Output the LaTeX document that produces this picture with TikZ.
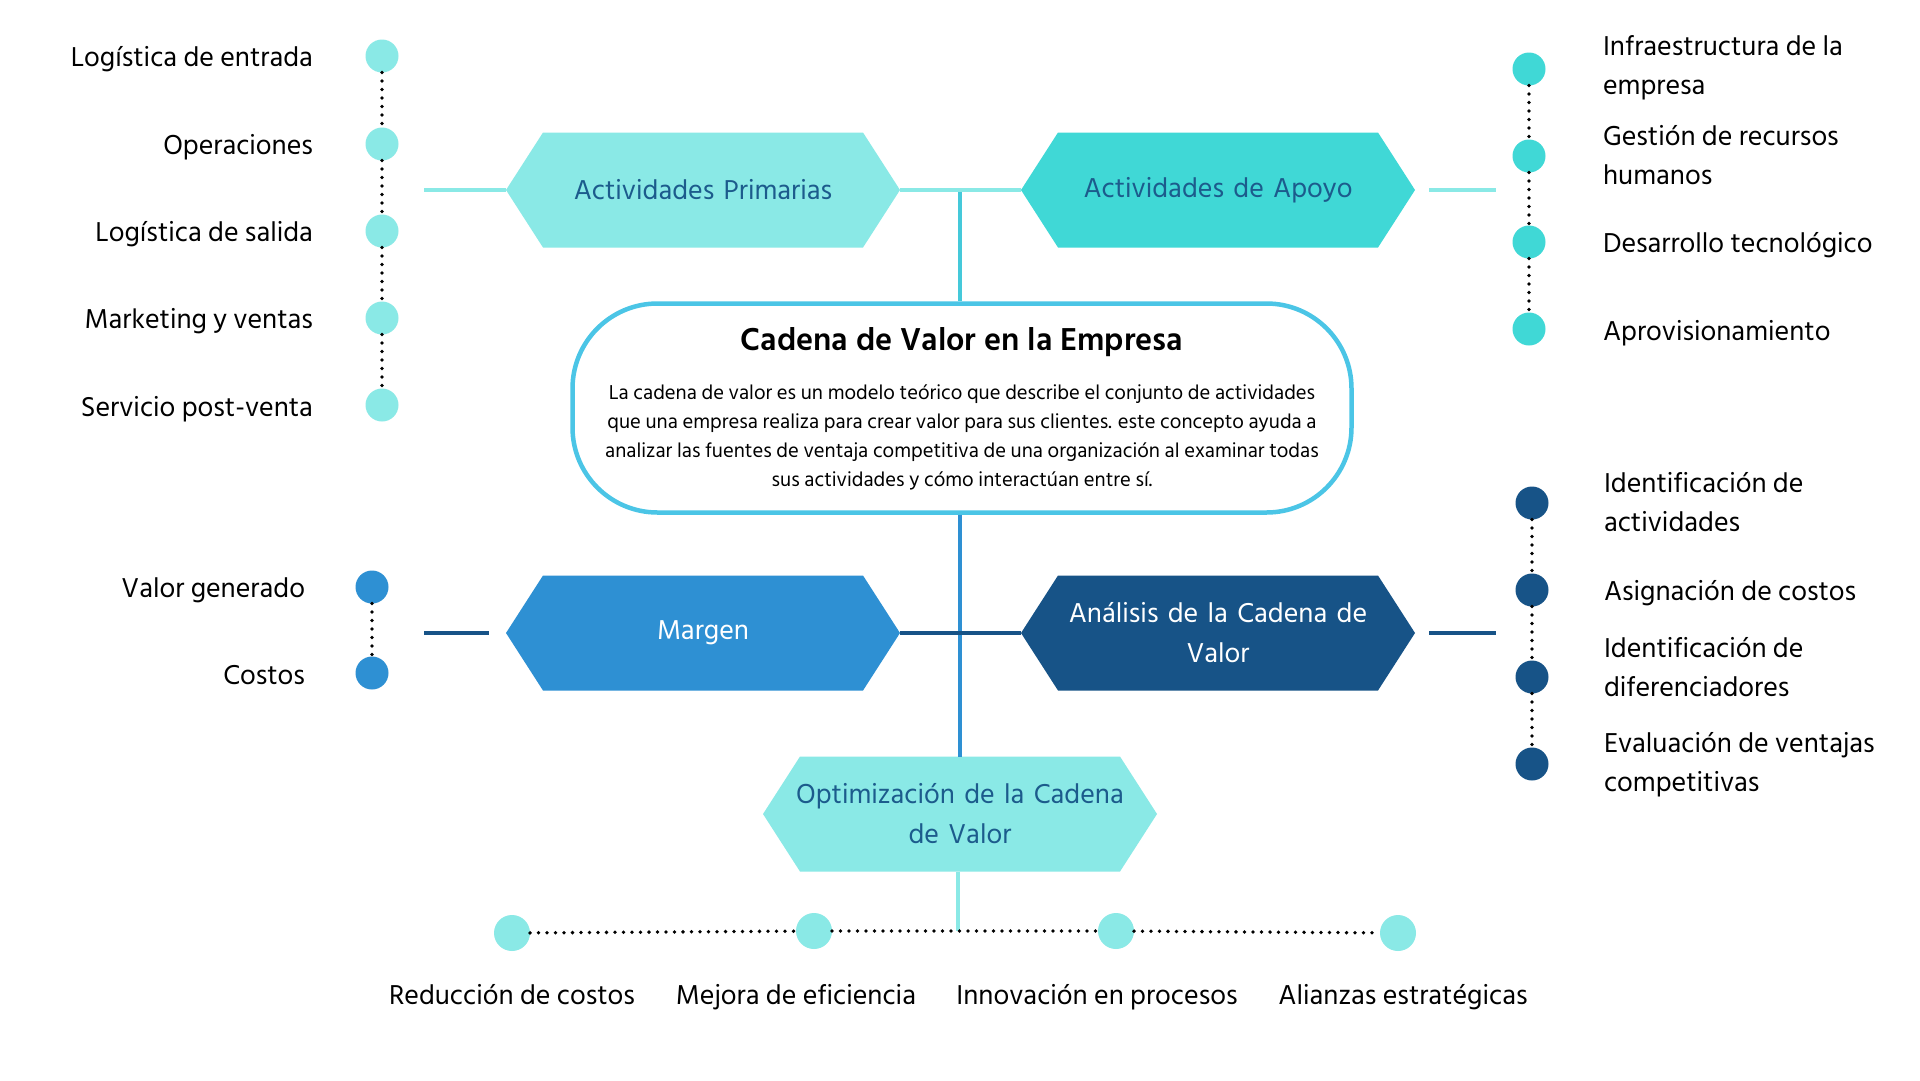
\documentclass[tikz,border=0pt]{standalone}
\usepackage{fontspec}
\setmainfont{Hind Siliguri}
\usetikzlibrary{calc}
\definecolor{lightc}{HTML}{8AE9E6}
\definecolor{turq}{HTML}{40D8D6}
\definecolor{medblue}{HTML}{2E90D3}
\definecolor{darkblue}{HTML}{175387}
\definecolor{boxcol}{HTML}{4BC5E6}
\definecolor{topline}{HTML}{45C9DA}
\definecolor{hextext}{HTML}{1C5B8C}
\begin{document}
\begin{tikzpicture}[x=1pt,y=-1pt,
  pdot/.style={circle, inner sep=0, outer sep=0, minimum size=33, fill=#1},
  bdot/.style={circle, inner sep=0, outer sep=0, minimum size=36, fill=#1},
  dotline/.style={line width=3.8, dash pattern=on 0pt off 8.5pt, line cap=round, black},
  conn/.style={line width=4, #1},
  lbl/.style={font=\fontsize{28}{39}\selectfont, inner sep=0, outer sep=0},
  hexnode/.style n args={2}{minimum width=394, minimum height=115, inner sep=0, outer sep=0,
    text width=340, align=center, font=\fontsize{28}{40}\selectfont, text=#2,
    path picture={\fill[#1] (path picture bounding box.west)
      -- ([xshift=37pt]path picture bounding box.north west)
      -- ([xshift=-37pt]path picture bounding box.north east)
      -- (path picture bounding box.east)
      -- ([xshift=-37pt]path picture bounding box.south east)
      -- ([xshift=37pt]path picture bounding box.south west) -- cycle;}},
]
\useasboundingbox[fill=white] (0,0) rectangle (1920,1080);

% ---------- top hexagons ----------
\node[hexnode={lightc}{hextext}] (prim) at (703,190) {Actividades Primarias};
\node[hexnode={turq}{hextext}] (apoyo) at (1218,190) {Actividades de Apoyo};
\coordinate (ps) at (424,190);
\coordinate (as) at (1496,190);
\coordinate (tj) at (960,190);

% ---------- central box ----------
\node[draw=boxcol, line width=4.5, rounded corners=85, minimum width=779, minimum height=209, inner sep=0, fill=white] (box) at (962,408) {};
\node[font=\fontsize{32.5}{38}\selectfont\bfseries] (title) at (962,342) {Cadena de Valor en la Empresa};
\node[font=\fontsize{20.6}{29}\selectfont, align=center] (body) at (962,437)
  {La cadena de valor es un modelo teórico que describe el conjunto de actividades\\
   que una empresa realiza para crear valor para sus clientes. este concepto ayuda a\\
   analizar las fuentes de ventaja competitiva de una organización al examinar todas\\
   sus actividades y cómo interactúan entre sí.};

\draw[conn=lightc] (ps) -- (prim.west);
\draw[conn=lightc] ([xshift=14pt]apoyo.east) -- (as);
\draw[conn=topline] (tj) -- (tj |- box.north);
\draw[conn=lightc] (prim.east) -- (apoyo.west);

% ---------- lower hexagons ----------
\node[hexnode={medblue}{white}] (marg) at (703,633) {Margen};
\node[hexnode={darkblue}{white}] (anal) at (1218,633) {Análisis de la Cadena de\\Valor};
\node[hexnode={lightc}{hextext}] (opt) at (960,814) {Optimización de la Cadena\\de Valor};
\coordinate (ms) at (424,633);
\coordinate (as2) at (1496,633);
\coordinate (bj) at (958,931);

\draw[conn=medblue] (box.south -| tj) -- (opt.north -| tj);
\draw[conn=darkblue] (ms) -- ([xshift=-17pt]marg.west);
\draw[conn=darkblue] (marg.east) -- (anal.west);
\draw[conn=darkblue] ([xshift=14pt]anal.east) -- (as2);
\draw[conn=lightc] (opt.south -| bj) -- (bj);

% ---------- left column ----------
\node[pdot=lightc] (p1) at (382,56) {};
\node[pdot=lightc] (p2) at (382,144) {};
\node[pdot=lightc] (p3) at (382,231) {};
\node[pdot=lightc] (p4) at (382,318) {};
\node[pdot=lightc] (p5) at (382,405) {};
\draw[dotline] (p1) -- (p2) -- (p3) -- (p4) -- (p5);
\node[lbl, anchor=base east] (pl1) at (313,66) {Logística de entrada};
\node[lbl, anchor=base east] (pl2) at (313,154) {Operaciones};
\node[lbl, anchor=base east] (pl3) at (313,241) {Logística de salida};
\node[lbl, anchor=base east] (pl4) at (313,328) {Marketing y ventas};
\node[lbl, anchor=base east] (pl5) at (313,416) {Servicio post-venta};

% ---------- right top column ----------
\node[pdot=turq] (r1) at (1529,69) {};
\node[pdot=turq] (r2) at (1529,156) {};
\node[pdot=turq] (r3) at (1529,242) {};
\node[pdot=turq] (r4) at (1529,329) {};
\draw[dotline] (r1) -- (r2) -- (r3) -- (r4);
\node[lbl, anchor=west, align=left] (rl1) at (1603,68) {Infraestructura de la\\empresa};
\node[lbl, anchor=west, align=left] (rl2) at (1603,155) {Gestión de recursos\\humanos};
\node[lbl, anchor=base west] (rl3) at (1603,252) {Desarrollo tecnológico};
\node[lbl, anchor=base west] (rl4) at (1603,340) {Aprovisionamiento};

% ---------- left margin column ----------
\node[pdot=medblue] (m1) at (372,587) {};
\node[pdot=medblue] (m2) at (372,673) {};
\draw[dotline] (m1) -- (m2);
\node[lbl, anchor=base east] (ml1) at (305,597) {Valor generado};
\node[lbl, anchor=base east] (ml2) at (305,684) {Costos};

% ---------- right bottom column ----------
\node[pdot=darkblue] (d1) at (1532,503) {};
\node[pdot=darkblue] (d2) at (1532,590) {};
\node[pdot=darkblue] (d3) at (1532,677) {};
\node[pdot=darkblue] (d4) at (1532,764) {};
\draw[dotline] (d1) -- (d2) -- (d3) -- (d4);
\node[lbl, anchor=west, align=left] (dl1) at (1604,502) {Identificación de\\actividades};
\node[lbl, anchor=base west] (dl2) at (1604,600) {Asignación de costos};
\node[lbl, anchor=west, align=left] (dl3) at (1604,667) {Identificación de\\diferenciadores};
\node[lbl, anchor=west, align=left] (dl4) at (1604,765) {Evaluación de ventajas\\competitivas};

% ---------- bottom row ----------
\node[bdot=lightc] (b1) at (512,933) {};
\node[bdot=lightc] (b2) at (814,931) {};
\node[bdot=lightc] (b3) at (1116,931) {};
\node[bdot=lightc] (b4) at (1398,933) {};
\draw[dotline] (b1) -- (b2) -- (b3) -- (b4);
\node[lbl, anchor=base] (bl1) at (512,1004) {Reducción de costos};
\node[lbl, anchor=base] (bl2) at (796,1004) {Mejora de eficiencia};
\node[lbl, anchor=base] (bl3) at (1097,1004) {Innovación en procesos};
\node[lbl, anchor=base] (bl4) at (1403,1004) {Alianzas estratégicas};
\end{tikzpicture}
\end{document}
